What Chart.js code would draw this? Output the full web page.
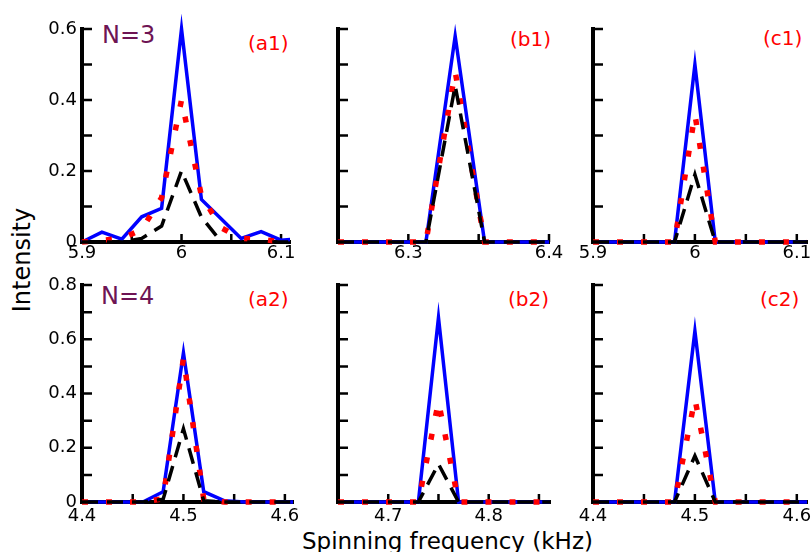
<!DOCTYPE html>
<html>
<head>
<meta charset="utf-8">
<title>Spinning frequency</title>
<script src="https://cdn.jsdelivr.net/npm/chart.js@4.4.1/dist/chart.umd.min.js"></script>
<style>
  body { margin: 0; background: #fff; }
  #plot { position: relative; width: 811px; height: 552px; overflow: hidden; font-family: "DejaVu Sans", sans-serif; }
  #plot canvas { position: absolute; left: 0; top: 0; }
  .txt { position: absolute; white-space: nowrap; line-height: 1; }
  .tag { font-size: 20px; color: #ff0000; }
  .nn { font-size: 24px; color: #6e1454; }
</style>
</head>
<body>
<div id="plot">
  <div class="txt nn" style="left:102px;top:23px">N=3</div>
  <div class="txt nn" style="left:101px;top:284px">N=4</div>
  <div class="txt tag" style="left:248px;top:33px">(a1)</div>
  <div class="txt tag" style="left:510px;top:29px">(b1)</div>
  <div class="txt tag" style="left:763px;top:28px">(c1)</div>
  <div class="txt tag" style="left:248px;top:289px">(a2)</div>
  <div class="txt tag" style="left:508px;top:289px">(b2)</div>
  <div class="txt tag" style="left:760px;top:289px">(c2)</div>
  <div class="txt" style="left:302px;top:530px;font-size:23px;color:#000">Spinning frequency (kHz)</div>
  <div class="txt" style="left:22px;top:260px;font-size:24px;color:#000;transform:translate(-50%,-50%) rotate(-90deg)">Intensity</div>
</div>
<script>
// --- data (intensity vs spinning frequency, kHz) ---
// N=3 row
const a1Freq  = [5.9, 5.92, 5.94, 5.96, 5.98, 6.0, 6.02, 6.04, 6.06, 6.08, 6.1, 6.12];
const a1Blue  = [0.0, 0.028, 0.008, 0.071, 0.095, 0.6, 0.12, 0.065, 0.01, 0.029, 0.005, 0.01];
const a1Red   = [0.0, 0.005, 0.01, 0.035, 0.125, 0.4, 0.13, 0.04, 0.01, 0.008, 0.0, 0.0];
const a1Black = [0.0, 0.0, 0.0, 0.01, 0.045, 0.2, 0.07, 0.0, 0.0, 0.0, 0.0, 0.0];

const b1Freq  = [6.25, 6.2708, 6.2917, 6.3125, 6.3333, 6.3542, 6.375, 6.3958, 6.4167];
const b1Blue  = [0, 0, 0, 0, 0.58, 0, 0, 0, 0];
const b1Red   = [0, 0, 0, 0, 0.48, 0, 0, 0, 0];
const b1Black = [0, 0, 0, 0, 0.44, 0, 0, 0, 0];

const c1Freq  = [5.9, 5.92, 5.94, 5.96, 5.98, 6.0, 6.02, 6.04, 6.06, 6.08, 6.1, 6.12];
const c1Blue  = [0, 0, 0, 0, 0, 0.5, 0, 0, 0, 0, 0, 0];
const c1Red   = [0, 0, 0, 0, 0, 0.36, 0, 0, 0, 0, 0, 0];
const c1Black = [0, 0, 0, 0, 0, 0.19, 0, 0, 0, 0, 0, 0];

// N=4 row
const a2Freq  = [4.4, 4.42, 4.44, 4.46, 4.48, 4.5, 4.52, 4.54, 4.56, 4.58, 4.6, 4.62];
const a2Blue  = [0, 0, 0, 0, 0.038, 0.55, 0.038, 0.005, 0, 0, 0, 0];
const a2Red   = [0, 0, 0, 0, 0.012, 0.53, 0.01, 0, 0, 0, 0, 0];
const a2Black = [0, 0, 0, 0, 0.01, 0.27, 0.005, 0, 0, 0, 0, 0];

const b2Freq  = [4.65, 4.67, 4.69, 4.71, 4.73, 4.75, 4.77, 4.79, 4.81, 4.83, 4.85, 4.87];
const b2Blue  = [0, 0, 0, 0, 0, 0.68, 0, 0, 0, 0, 0, 0];
const b2Red   = [0, 0, 0, 0, 0, 0.37, 0, 0, 0, 0, 0, 0];
const b2Black = [0, 0, 0, 0, 0, 0.14, 0, 0, 0, 0, 0, 0];

const c2Freq  = [4.4, 4.42, 4.44, 4.46, 4.48, 4.5, 4.52, 4.54, 4.56, 4.58, 4.6, 4.62];
const c2Blue  = [0, 0, 0, 0, 0, 0.63, 0, 0, 0, 0, 0, 0];
const c2Red   = [0, 0, 0, 0, 0, 0.38, 0, 0, 0, 0, 0, 0];
const c2Black = [0, 0, 0, 0, 0, 0.17, 0, 0, 0, 0, 0, 0];

// tick labels
const a1XTicks = [5.9, 6, 6.1];
const b1XTicks = [6.3, 6.4];
const c1XTicks = [5.9, 6, 6.1];
const a2XTicks = [4.4, 4.5, 4.6];
const b2XTicks = [4.7, 4.8];
const c2XTicks = [4.4, 4.5, 4.6];
const topYTicks = [0, 0.2, 0.4, 0.6];
const botYTicks = [0, 0.2, 0.4, 0.6, 0.8];

// small inward tick marks
const a1XMinor = [5.95, 6, 6.05, 6.1];
const b1XMinor = [6.3, 6.35, 6.4];
const c1XMinor = [5.95, 6, 6.05, 6.1];
const a2XMinor = [4.45, 4.5, 4.55, 4.6];
const b2XMinor = [4.7, 4.75, 4.8, 4.85];
const c2XMinor = [4.45, 4.5, 4.55, 4.6];
const topYMinor = [0.1, 0.2, 0.3, 0.4, 0.5, 0.6];
const botYMinor = [0.1, 0.2, 0.3, 0.4, 0.5, 0.6, 0.7, 0.8];

const W = 811, H = 552, XH = 30;
const tickFont = { family: 'DejaVu Sans', size: 18 };
const fmt = v => String(Math.round(v * 100) / 100);

// ticks pointing into the plot, like the original
const innerTicks = {
  id: 'innerTicks',
  beforeDatasetsDraw(chart, args, opts) {
    const { ctx, chartArea: a, scales: { x, y } } = chart;
    ctx.save();
    ctx.strokeStyle = '#000';
    ctx.lineWidth = 2.5;
    ctx.beginPath();
    opts.x.forEach(v => {
      const px = x.getPixelForValue(v);
      ctx.moveTo(px, a.bottom);
      ctx.lineTo(px, a.bottom - 8);
    });
    opts.y.forEach(v => {
      const py = y.getPixelForValue(v);
      ctx.moveTo(a.left, py);
      ctx.lineTo(a.left + 10, py);
    });
    ctx.stroke();
    ctx.restore();
  }
};

const panels = [
  { freq: a1Freq, blue: a1Blue, red: a1Red, black: a1Black, xMin: 5.9, xMax: 6.109, yMax: 0.6,
    xTicks: a1XTicks, yTicks: topYTicks, xMinor: a1XMinor, yMinor: topYMinor, box: [82, 29, 290, 242], row: 0 },
  { freq: b1Freq, blue: b1Blue, red: b1Red, black: b1Black, xMin: 6.25, xMax: 6.4, yMax: 0.6,
    xTicks: b1XTicks, yTicks: [], xMinor: b1XMinor, yMinor: topYMinor, box: [338, 29, 549, 242], row: 0 },
  { freq: c1Freq, blue: c1Blue, red: c1Red, black: c1Black, xMin: 5.9, xMax: 6.11, yMax: 0.6,
    xTicks: c1XTicks, yTicks: [], xMinor: c1XMinor, yMinor: topYMinor, box: [593, 29, 807, 242], row: 0 },
  { freq: a2Freq, blue: a2Blue, red: a2Red, black: a2Black, xMin: 4.4, xMax: 4.608, yMax: 0.8,
    xTicks: a2XTicks, yTicks: botYTicks, xMinor: a2XMinor, yMinor: botYMinor, box: [82, 285, 293, 502], row: 1 },
  { freq: b2Freq, blue: b2Blue, red: b2Red, black: b2Black, xMin: 4.65, xMax: 4.861, yMax: 0.8,
    xTicks: b2XTicks, yTicks: [], xMinor: b2XMinor, yMinor: botYMinor, box: [338, 285, 550, 502], row: 1 },
  { freq: c2Freq, blue: c2Blue, red: c2Red, black: c2Black, xMin: 4.4, xMax: 4.61, yMax: 0.8,
    xTicks: c2XTicks, yTicks: [], xMinor: c2XMinor, yMinor: botYMinor, box: [593, 285, 807, 502], row: 1 }
];

function drawPanel(p) {
  const cv = document.createElement('canvas');
  cv.width = W;
  cv.height = H;
  document.getElementById('plot').appendChild(cv);

  const [L, T, R, B] = p.box;
  const yw = p.yTicks.length ? 60 : 10;
  const pts = ys => ys.map((v, i) => ({ x: p.freq[i], y: v }));
  const clip = { left: 2, top: false, right: 0, bottom: 6 };

  new Chart(cv, {
    type: 'line',
    data: {
      datasets: [
        { data: pts(p.black), borderColor: '#000000', borderWidth: 3.5, borderDash: [16, 9], order: 0, clip },
        { data: pts(p.red), borderColor: '#ff0000', borderWidth: 5.5, borderDash: [6, 18], order: 1, clip },
        { data: pts(p.blue), borderColor: '#0000ff', borderWidth: 3.5, order: 2, clip }
      ]
    },
    options: {
      responsive: false,
      animation: false,
      events: [],
      layout: { autoPadding: false, padding: { left: L - yw, top: T, right: W - R, bottom: H - B - XH } },
      elements: { point: { radius: 0 }, line: { tension: 0, fill: false } },
      plugins: {
        legend: { display: false },
        tooltip: { enabled: false },
        innerTicks: { x: p.xMinor, y: p.yMinor }
      },
      scales: {
        x: {
          type: 'linear', min: p.xMin, max: p.xMax,
          grid: { display: false, drawTicks: false },
          border: { color: '#000', width: 4 },
          ticks: { font: tickFont, color: '#000', padding: p.row ? 4 : 1, maxRotation: 0, autoSkip: false, callback: fmt },
          afterBuildTicks: s => { s.ticks = p.xTicks.map(v => ({ value: v })); },
          afterFit: s => { s.height = XH; s.paddingLeft = 0; s.paddingRight = 0; }
        },
        y: {
          type: 'linear', min: 0, max: p.yMax,
          grid: { display: false, drawTicks: false },
          border: { color: '#000', width: 4 },
          ticks: { display: p.yTicks.length > 0, font: tickFont, color: '#000', padding: 5, autoSkip: false, callback: fmt },
          afterBuildTicks: s => { if (p.yTicks.length) s.ticks = p.yTicks.map(v => ({ value: v })); },
          afterFit: s => { s.width = yw; s.paddingTop = 0; s.paddingBottom = 0; }
        }
      }
    },
    plugins: [innerTicks]
  });
}

panels.forEach(drawPanel);
</script>
</body>
</html>
